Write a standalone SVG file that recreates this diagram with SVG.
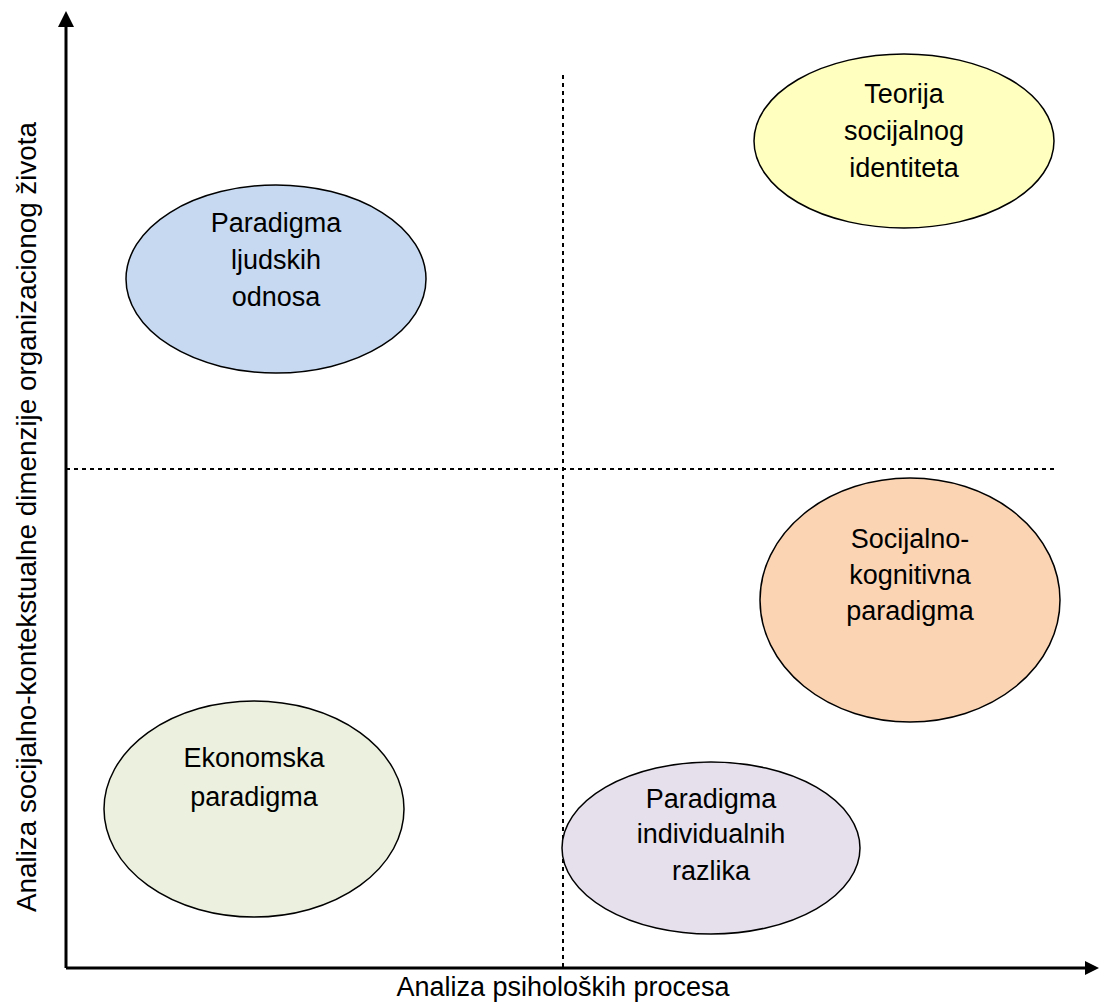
<svg xmlns="http://www.w3.org/2000/svg" width="1099" height="1003" viewBox="0 0 1099 1003">
<style>
.t{font-family:"Liberation Sans",Arial,sans-serif;font-size:27px;fill:#000;text-anchor:middle}
.e{stroke:#000;stroke-width:1.5}
.d{stroke:#000;stroke-width:2;stroke-dasharray:4,4;fill:none}
.ax{stroke:#000;stroke-width:3;fill:none}
</style>
<rect width="1099" height="1003" fill="#fff"/>
<g id="connectors">
<line class="d" x1="563" y1="75" x2="563" y2="968"/>
<line class="d" x1="66" y1="469" x2="1058" y2="469"/>
<line class="ax" x1="66" y1="968" x2="66" y2="24"/>
<polygon points="66,11 58,27 74,27" fill="#000"/>
<line class="ax" x1="66" y1="968" x2="1088" y2="968"/>
<polygon points="1099,968 1085,961 1085,975" fill="#000"/>
</g>
<g id="teorija">
<ellipse class="e" cx="904" cy="141" rx="150" ry="87" fill="#FFFFC0"/>
<text class="t" x="904" y="103">Teorija</text>
<text class="t" x="904" y="140">socijalnog</text>
<text class="t" x="904" y="177">identiteta</text>
</g>
<g id="ljudskih">
<ellipse class="e" cx="276" cy="279" rx="150" ry="94" fill="#C6D9F1"/>
<text class="t" x="276" y="232">Paradigma</text>
<text class="t" x="276" y="269">ljudskih</text>
<text class="t" x="276" y="306">odnosa</text>
</g>
<g id="socijalno">
<ellipse class="e" cx="910" cy="600" rx="150" ry="122" fill="#FBD4B4"/>
<text class="t" x="910" y="548">Socijalno-</text>
<text class="t" x="910" y="584">kognitivna</text>
<text class="t" x="910" y="620">paradigma</text>
</g>
<g id="ekonomska">
<ellipse class="e" cx="254" cy="809" rx="150" ry="108" fill="#EBF1DE"/>
<text class="t" x="254" y="767">Ekonomska</text>
<text class="t" x="254" y="806">paradigma</text>
</g>
<g id="individualnih">
<ellipse class="e" cx="711" cy="848" rx="149" ry="86" fill="#E5E0EC"/>
<text class="t" x="711" y="808">Paradigma</text>
<text class="t" x="711" y="843">individualnih</text>
<text class="t" x="711" y="880">razlika</text>
</g>
<g id="labels">
<text class="t" x="563" y="996">Analiza psiholoških procesa</text>
<text class="t" transform="translate(36,517) rotate(-90)" x="0" y="0" textLength="790" lengthAdjust="spacingAndGlyphs">Analiza socijalno-kontekstualne dimenzije organizacionog života</text>
</g>
</svg>
